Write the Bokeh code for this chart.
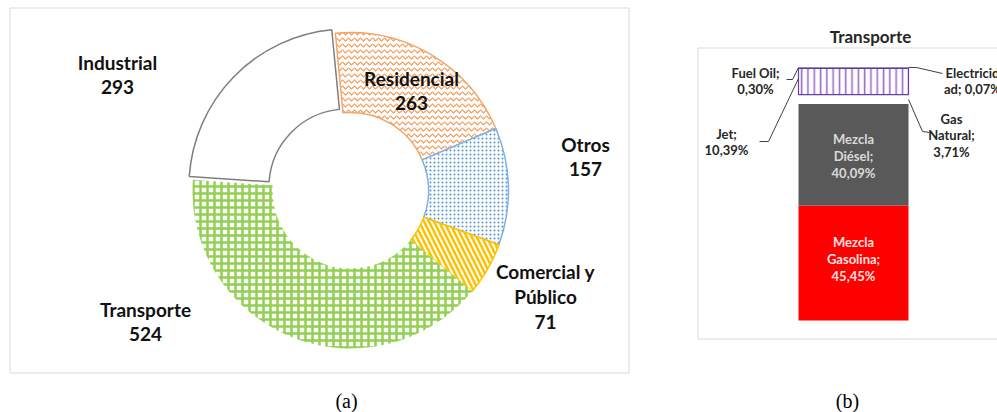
import numpy as np
from bokeh.plotting import figure
from bokeh.layouts import row
from bokeh.models import Range1d
from bokeh.core.properties import value
from bokeh.embed import file_html
from bokeh.resources import INLINE

# ---------------- data: panel (a) ----------------
sectores = ["Residencial", "Otros", "Comercial y Público", "Transporte", "Industrial"]
consumo = [263, 157, 71, 524, 293]
etiquetas_sector = ["Residencial\n263", "Otros\n157", "Comercial y\nPúblico\n71",
                    "Transporte\n524", "Industrial\n293"]

# ---------------- data: panel (b) ----------------
fuentes = ["Mezcla Gasolina", "Mezcla Diésel", "Gas Natural", "Jet", "Fuel Oil", "Electricidad"]
participacion = [45.45, 40.09, 3.71, 10.39, 0.30, 0.07]
etiquetas_fuente = ["Mezcla\nGasolina;\n45,45%", "Mezcla\nDiésel;\n40,09%", "Gas\nNatural;\n3,71%",
                    "Jet;\n10,39%", "Fuel Oil;\n0,30%", "Electricid\nad; 0,07%"]

FONT = value("Lato")
H = 412
W_A, W_B = 640, 357


def base_fig(w, xr, yr):
    f = figure(width=w, height=H, x_range=xr, y_range=yr, output_backend="svg",
               toolbar_location=None, x_axis_type=None, y_axis_type=None, min_border=0)
    f.grid.visible = False
    f.outline_line_color = None
    f.background_fill_color = "white"
    f.border_fill_color = "white"
    return f


# ================= panel (a): donut =================
pa = base_fig(W_A, Range1d(0, W_A), Range1d(-H, 0))
pa.quad(left=9.5, right=628.5, top=-7.5, bottom=-372.5, fill_color=None,
        line_color="#d9d9d9", line_width=1)

CX, CY = 350, -190
R_OUT, R_IN = 158, 78
FIRST_SLICE_DEG = 95.5          # start angle of the first slice (counter-clockwise from east)
explode = [0, 0, 0, 0, 5]
total = float(sum(consumo))
cum = np.concatenate([[0.0], np.cumsum(consumo)])
a0 = np.deg2rad(FIRST_SLICE_DEG)
end_ang = a0 - cum[:-1] / total * 2 * np.pi
start_ang = a0 - cum[1:] / total * 2 * np.pi
mid_ang = (start_ang + end_ang) / 2

styles = [
    dict(line_color="#F2A66A", line_width=1.5, hatch_pattern="horizontal_wave",
         hatch_color="#F09A55", hatch_scale=6, hatch_weight=1.1),
    dict(line_color="#7DB0E6", line_width=1.5, hatch_pattern="dot",
         hatch_color="#4F8FD0", hatch_scale=4, hatch_weight=2.6),
    dict(line_color="#FFC000", line_width=1.5, hatch_pattern="left_diagonal_line",
         hatch_color="#FFC000", hatch_scale=10, hatch_weight=2.5),
    dict(line_color=None, hatch_pattern="cross",
         hatch_color="#92D050", hatch_scale=7, hatch_weight=2.5),
    dict(line_color="#7f7f7f", line_width=1.5),
]
for i in range(len(consumo)):
    x0 = CX + explode[i] * np.cos(mid_ang[i])
    y0 = CY + explode[i] * np.sin(mid_ang[i])
    pa.annular_wedge(x=[x0], y=[y0], inner_radius=R_IN, outer_radius=R_OUT,
                     start_angle=[start_ang[i]], end_angle=[end_ang[i]],
                     fill_color="white", **styles[i])

lab_x = [411, 585, 545, 145, 117]
lab_y = [-90, -156, -296, -321, -74]
pa.text(x=lab_x, y=lab_y, text=etiquetas_sector, text_font=FONT, text_font_style="bold",
        text_font_size="19px", text_align="center", text_baseline="middle",
        text_line_height=1.07, text_color="#111111")
pa.text(x=[346], y=[-400], text=["(a)"], text_font=value("Liberation Serif"),
        text_font_size="20px", text_align="center", text_baseline="middle", text_color="black")

# ================= panel (b): stacked bar =================
BAR_TOP_PX, BAR_BOT_PX = 67, 320
PPP = (BAR_BOT_PX - BAR_TOP_PX) / 100.0


def pct(py):
    return (BAR_BOT_PX - py) / PPP


pb = base_fig(W_B, Range1d(W_A, W_A + W_B), Range1d(pct(H), pct(0)))
pb.quad(left=697.5, right=1060, top=pct(47.5), bottom=pct(338.5), fill_color=None,
        line_color="#d9d9d9", line_width=1)
pb.text(x=[870], y=[pct(36)], text=["Transporte"], text_font=FONT, text_font_style="bold",
        text_font_size="17px", text_align="center", text_baseline="middle", text_color="#262626")

BX, BW = 853, 110
tops = np.cumsum(participacion)
bottoms = tops - np.array(participacion)
bstyles = [
    dict(fill_color="#FF0000", line_color=None),
    dict(fill_color="#595959", line_color=None),
    dict(fill_color="white", line_color=None),
    dict(fill_color="white", line_color="#6A3FA0", line_width=1.2, hatch_pattern="vertical_line",
         hatch_color="#9A6BCB", hatch_scale=6.3, hatch_weight=1.6),
    dict(fill_color="#4B3C8C", line_color=None),
    dict(fill_color="#2F3F7A", line_color=None),
]
for i in range(len(participacion)):
    pb.vbar(x=[BX], width=BW, bottom=[bottoms[i]], top=[tops[i]], **bstyles[i])

mids = (bottoms + tops) / 2
pb.text(x=[BX, BX], y=[mids[0] + 1.5, mids[1] - 0.5], text=etiquetas_fuente[:2], text_font=FONT,
        text_font_style="bold", text_font_size="13px", text_align="center", text_baseline="middle",
        text_line_height=1.05, text_color=["#FBE3E3", "#D9D9D9"])

out_x = [951, 726, 755, 972]
out_y = [pct(135), pct(141.5), pct(80.5), pct(80.5)]
pb.text(x=out_x, y=out_y, text=etiquetas_fuente[2:], text_font=FONT, text_font_style="bold",
        text_font_size="13px", text_align="center", text_baseline="middle",
        text_line_height=1.05, text_color="#262626")

L, R = BX - BW / 2, BX + BW / 2
lead_xs = [
    [R, 922, 929],          # Gas Natural
    [759, 768, L],          # Jet
    [786, 792, L],          # Fuel Oil
    [R, 916, 942],          # Electricidad
]
lead_ys = [
    [mids[2], pct(131), pct(132)],
    [pct(141), pct(141), tops[3] - 4],
    [pct(79), pct(79), tops[4]],
    [tops[5], pct(67), pct(73)],
]
pb.multi_line(xs=lead_xs, ys=lead_ys, line_color="#404040", line_width=1)

pb.text(x=[847], y=[pct(400)], text=["(b)"], text_font=value("Liberation Serif"),
        text_font_size="20px", text_align="center", text_baseline="middle", text_color="black")

layout = row(pa, pb, spacing=0)
open("out.html", "w").write(file_html(layout, INLINE))
